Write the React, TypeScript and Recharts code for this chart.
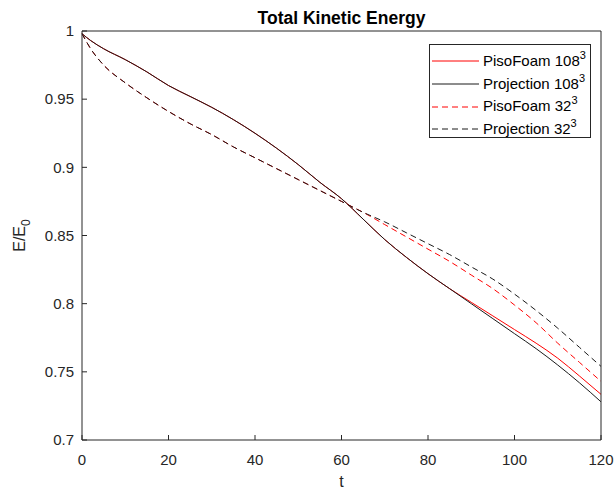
import React from 'react';
import { LineChart, Line, XAxis, YAxis, Legend, Label } from 'recharts';

// time samples and energy ratio
const T = [0, 2, 5, 10, 15, 20, 25, 30, 35, 40, 45, 50, 55, 60, 65, 70, 75, 80, 85, 90, 95, 100, 105, 110, 115, 120];
const PISO_108 = [0.998, 0.993, 0.987, 0.979, 0.97, 0.96, 0.952, 0.944, 0.935, 0.925, 0.914, 0.902, 0.889, 0.877, 0.862, 0.847, 0.834, 0.822, 0.811, 0.801, 0.791, 0.781, 0.771, 0.76, 0.747, 0.7335];
const PROJ_108 = [0.998, 0.993, 0.987, 0.979, 0.97, 0.96, 0.952, 0.944, 0.935, 0.925, 0.914, 0.902, 0.889, 0.877, 0.862, 0.847, 0.834, 0.822, 0.811, 0.8, 0.789, 0.778, 0.767, 0.755, 0.742, 0.728];
const PISO_32 = [0.998, 0.987, 0.975, 0.962, 0.951, 0.941, 0.932, 0.924, 0.915, 0.907, 0.899, 0.891, 0.883, 0.875, 0.867, 0.858, 0.849, 0.84, 0.831, 0.821, 0.811, 0.799, 0.786, 0.771, 0.757, 0.743];
const PROJ_32 = [0.998, 0.987, 0.975, 0.962, 0.951, 0.941, 0.932, 0.924, 0.915, 0.907, 0.899, 0.891, 0.883, 0.875, 0.867, 0.86, 0.852, 0.844, 0.836, 0.827, 0.818, 0.807, 0.795, 0.782, 0.768, 0.754];

const X_TICKS = [0, 20, 40, 60, 80, 100, 120];
const Y_TICKS = [0.7, 0.75, 0.8, 0.85, 0.9, 0.95, 1];

const SERIES = [
  { key: 'piso108', name: 'PisoFoam', res: '108', color: '#ff0000', dash: undefined },
  { key: 'proj108', name: 'Projection', res: '108', color: '#1a1a1a', dash: undefined },
  { key: 'piso32', name: 'PisoFoam', res: '32', color: '#ff0000', dash: '6 4' },
  { key: 'proj32', name: 'Projection', res: '32', color: '#1a1a1a', dash: '6 4' },
];

const data = T.map((t, i) => ({
  t,
  piso108: PISO_108[i],
  proj108: PROJ_108[i],
  piso32: PISO_32[i],
  proj32: PROJ_32[i],
}));

const FONT = '"Liberation Sans", Arial, Helvetica, sans-serif';
const AXIS = '#262626';

function LegendBox() {
  return (
    <div
      style={{
        width: 162,
        height: 94,
        boxSizing: 'border-box',
        border: `1px solid ${AXIS}`,
        background: '#fff',
        paddingTop: 5,
        fontFamily: FONT,
        fontSize: 15,
        color: '#000',
      }}
    >
      {SERIES.map((s) => (
        <div key={s.key} style={{ height: 22.7, display: 'flex', alignItems: 'center' }}>
          <svg width={47} height={4} style={{ marginLeft: 2, marginRight: 4, flex: 'none' }}>
            <line x1={0} y1={2} x2={47} y2={2} stroke={s.color} strokeWidth={1} strokeDasharray={s.dash} />
          </svg>
          <span style={{ whiteSpace: 'nowrap', lineHeight: '16px' }}>
            {s.name} {s.res}
            <span style={{ fontSize: 11, position: 'relative', top: -7 }}>3</span>
          </span>
        </div>
      ))}
    </div>
  );
}

export default function App() {
  return (
    <div style={{ position: 'absolute', left: 0, top: 0, width: 616, height: 493, background: '#fff' }}>
      <LineChart
        width={616}
        height={493}
        data={data}
        margin={{ top: 30, right: 14, bottom: 0, left: 0 }}
        style={{ fontFamily: FONT }}
      >
        <XAxis
          dataKey="t"
          type="number"
          domain={[0, 120]}
          ticks={X_TICKS}
          height={53}
          stroke={AXIS}
          tickSize={-5}
          tickMargin={19}
          tick={{ fill: AXIS, fontSize: 15 }}
        >
          <Label
            content={({ viewBox }: any) => (
              <text x={viewBox.x + viewBox.width / 2} y={viewBox.y + 47} textAnchor="middle" fill={AXIS} fontSize={16} fontFamily={FONT}>
                t
              </text>
            )}
          />
        </XAxis>
        <XAxis
          xAxisId="top"
          orientation="top"
          dataKey="t"
          type="number"
          domain={[0, 120]}
          ticks={X_TICKS}
          height={1}
          stroke={AXIS}
          tickSize={-5}
          tick={false}
        >
          <Label
            content={({ viewBox }: any) => (
              <text x={viewBox.x + viewBox.width / 2} y={viewBox.y + viewBox.height - 7} textAnchor="middle" fill="#000" fontSize={17.5} fontWeight="bold" fontFamily={FONT}>
                Total Kinetic Energy
              </text>
            )}
          />
        </XAxis>
        <YAxis
          type="number"
          domain={[0.7, 1]}
          ticks={Y_TICKS}
          width={82}
          stroke={AXIS}
          tickSize={-5}
          tickMargin={13}
          tick={{ fill: AXIS, fontSize: 15 }}
          tickFormatter={(v: number) => String(v)}
        >
          <Label
            content={({ viewBox }: any) => {
              const cx = 25;
              const cy = viewBox.y + viewBox.height / 2;
              return (
                <text x={cx} y={cy} transform={`rotate(-90, ${cx}, ${cy})`} textAnchor="middle" fill={AXIS} fontSize={16} fontFamily={FONT}>
                  E/E
                  <tspan fontSize={12} dy={5}>0</tspan>
                </text>
              );
            }}
          />
        </YAxis>
        <YAxis
          yAxisId="right"
          orientation="right"
          type="number"
          domain={[0.7, 1]}
          ticks={Y_TICKS}
          width={1}
          stroke={AXIS}
          tickSize={-5}
          tick={false}
        />
        {SERIES.map((s) => (
          <Line
            key={s.key}
            dataKey={s.key}
            name={`${s.name} ${s.res}`}
            type="monotone"
            stroke={s.color}
            strokeWidth={1}
            strokeDasharray={s.dash}
            dot={false}
            isAnimationActive={false}
          />
        ))}
        <Legend
          layout="vertical"
          align="center"
          verticalAlign="middle"
          content={() => <LegendBox />}
          wrapperStyle={{ left: 429, top: 44, width: 162, height: 94 }}
        />
      </LineChart>
    </div>
  );
}
